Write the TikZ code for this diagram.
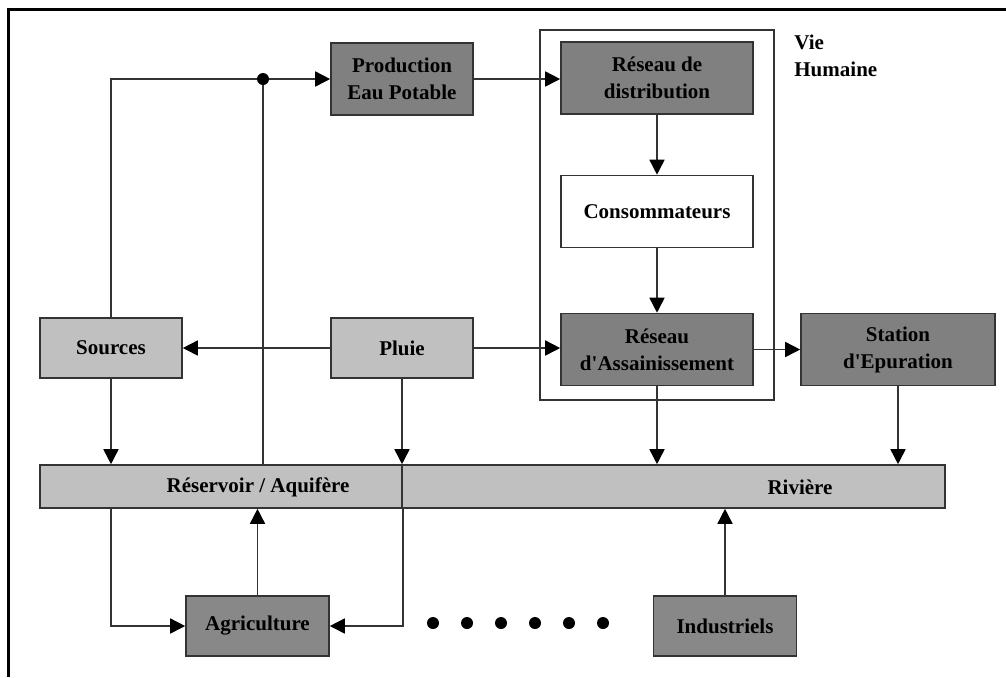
\documentclass[tikz,border=0pt]{standalone}
\usepackage{fontspec}
\setmainfont{Liberation Serif}[Ligatures=TeXOff]
\usepackage{xcolor}
\usetikzlibrary{arrows.meta}
\definecolor{boxdark}{RGB}{128,128,128}
\definecolor{boxmid}{RGB}{136,136,136}
\definecolor{boxlight}{RGB}{192,192,192}
\definecolor{edgegray}{RGB}{51,51,51}

\begin{document}
\begin{tikzpicture}[x=0.5pt, y=-0.5pt,
    box/.style={draw=edgegray, line width=0.8pt, inner sep=0pt, align=center,
        font=\fontsize{10.5}{13.5}\selectfont\bfseries, minimum height=36pt},
    darkbox/.style={box, fill=boxdark},
    midbox/.style={box, fill=boxmid, minimum width=71.5pt, minimum height=30pt},
    lightbox/.style={box, fill=boxlight, minimum width=71pt, minimum height=30pt},
    barbox/.style={box, fill=boxlight, minimum height=21.5pt},
    bartext/.style={inner sep=0pt, font=\fontsize{10.5}{13.5}\selectfont\bfseries},
    link/.style={draw=edgegray, line width=0.8pt},
    flow/.style={link, -{Triangle[length=7.5pt, width=7.5pt, color=black]}}]
    \useasboundingbox (0,0) rectangle (1006,677);
    \draw[line width=1.5pt] (1006,9) -- (8,9) -- (8,677);

    \draw[link] (540,30) rectangle (774,400);
    \node[anchor=north west, align=left, inner sep=0pt,
          font=\fontsize{10.5}{13.5}\selectfont\bfseries] (vie) at (794,35) {Vie\\Humaine};

    \node[darkbox, minimum width=71pt] (prod) at (402,79) {Production\\Eau Potable};
    \node[darkbox, minimum width=96pt] (distrib) at (657,78) {Réseau de\\distribution};
    \node[box, fill=white, minimum width=96pt] (conso) at (657,211.5) {Consommateurs};
    \node[darkbox, minimum width=96pt] (assain) at (657,349.5) {Réseau\\d'Assainissement};
    \node[darkbox, minimum width=97pt] (station) at (898,349.5) {Station\\d'Epuration};
    \node[lightbox] (sources) at (111,348) {Sources};
    \node[lightbox] (pluie) at (402,348) {Pluie};
    \node[barbox, minimum width=181pt] (reservoir) at (221,486.5) {};
    \node[barbox, minimum width=271.5pt] (riviere) at (673.5,486.5) {};
    \node[bartext] (reservoirtxt) at (258,487) {Réservoir / Aquifère};
    \node[bartext] (rivieretxt) at (800,487) {Rivière};
    \node[midbox] (agri) at (257.5,626) {Agriculture};
    \node[midbox] (indus) at (725,626) {Industriels};

    \coordinate (jn) at (263,79);
    \draw[flow] (sources.north) |- (prod.west);
    \draw[link] (reservoir.north -| jn) -- (jn);
    \fill (jn) circle (3pt);
    \draw[flow] (prod.east) -- (prod.east -| distrib.west);
    \draw[flow] (distrib) -- (conso);
    \draw[flow] (conso) -- (assain);
    \draw[flow] (pluie.west) -- (pluie.west -| sources.east);
    \draw[flow] (pluie.east) -- (pluie.east -| assain.west);
    \draw[flow] (assain.east) -- (assain.east -| station.west);
    \draw[flow] (sources.south) -- (sources.south |- reservoir.north);
    \draw[flow] (pluie.south) -- (pluie.south |- reservoir.north);
    \draw[flow] (assain.south) -- (assain.south |- riviere.north);
    \draw[flow] (station.south) -- (station.south |- riviere.north);
    \draw[flow] (sources.south |- reservoir.south) |- (agri.west);
    \draw[flow] (reservoir.south east) |- (agri.east);
    \draw[flow] (agri.north) -- (agri.north |- reservoir.south);
    \draw[flow] (indus.north) -- (indus.north |- riviere.south);

    \foreach \i in {0,...,5}
        \fill (433+34*\i,623) circle (3pt);
\end{tikzpicture}
\end{document}
